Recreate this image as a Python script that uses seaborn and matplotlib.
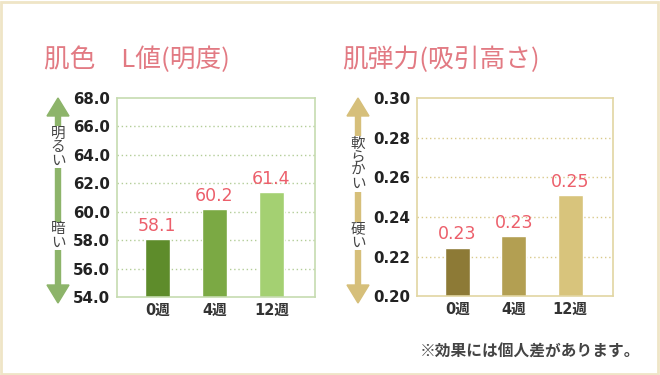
import matplotlib
matplotlib.use("Agg")
import matplotlib.pyplot as plt
import seaborn as sns
import numpy as np
from matplotlib.patches import FancyArrow, Rectangle
from matplotlib.transforms import IdentityTransform

sns.set_theme(style="white")
plt.rcParams['font.family'] = ['Noto Sans CJK JP', 'DejaVu Sans']

# data
weeks = ['0週', '4週', '12週']
l_values = [58.1, 60.2, 61.4]
l_labels = ['58.1', '60.2', '61.4']
l_ticks = [54.0, 56.0, 58.0, 60.0, 62.0, 64.0, 66.0, 68.0]
el_values = [0.2245, 0.2305, 0.2510]
el_labels = ['0.23', '0.23', '0.25']
el_ticks = [0.20, 0.22, 0.24, 0.26, 0.28, 0.30]

green_bars = ['#5e8c2b', '#7ba944', '#a4d072']
gold_bars = ['#8d7a36', '#b39f52', '#d8c47c']
label_red = '#ec5f6b'
title_pink = '#e27a83'

fig = plt.figure(figsize=(6.6, 3.75), dpi=100)
fig.patch.set_facecolor('white')
fig.add_artist(Rectangle((0.002, 0.003), 0.995, 0.992, transform=fig.transFigure,
                         fill=False, edgecolor='#efe5c6', lw=2))

def panel(rect, values, labels, ticks, fmt, colors, edge, grid, title, title_x):
    ax = fig.add_axes(rect)
    sns.barplot(x=weeks, y=values, hue=weeks, palette=colors, legend=False,
                width=0.44, saturation=1, ax=ax)
    ax.set_xlim(-0.71, 2.76)
    ax.set_ylim(ticks[0], ticks[-1])
    ax.set_yticks(ticks)
    ax.set_yticklabels([fmt.format(t) for t in ticks], fontsize=10.8,
                       fontweight='bold', color='#222222', family='DejaVu Sans')
    ax.set_xticks(range(len(weeks)))
    ax.set_xticklabels(weeks, fontsize=10.5, fontweight='bold', color='#333333',
                       family=['DejaVu Sans', 'Noto Sans CJK JP'])
    ax.tick_params(axis='y', length=0, pad=5)
    ax.tick_params(axis='x', length=0, pad=4)
    ax.set_xlabel('')
    ax.set_ylabel('')
    for t in ticks[1:-1]:
        ax.axhline(t, color=grid, lw=1, ls=(0, (1, 2)), zorder=0)
    for s in ax.spines.values():
        s.set_color(edge)
        s.set_linewidth(1.2)
    for c, lab in zip(ax.containers, labels):
        ax.bar_label(c, labels=[lab], padding=3, fontsize=12.5, color=label_red,
                     family='DejaVu Sans')
    fig.text(title_x, 0.84, title, fontsize=18.5, color=title_pink,
             ha='left', va='center')
    return ax

panel([0.177, 0.208, 0.300, 0.531], l_values, l_labels, l_ticks, '{:.1f}',
      green_bars, '#c6dbb0', '#b3cd98', '肌色　L値(明度)', 0.066)
panel([0.632, 0.210, 0.297, 0.529], el_values, el_labels, el_ticks, '{:.2f}',
      gold_bars, '#e2d6a2', '#d9ca8c', '肌弾力(吸引高さ)', 0.518)

def side_arrow(xc, color, top_text, top_y, bot_text, bot_y):
    H = 375
    y0, y1 = H - 303, H - 98
    mid = (y0 + y1) / 2
    for ys, ye in [(mid, y1), (mid, y0)]:
        fig.add_artist(FancyArrow(xc, ys, 0, ye - ys, width=5, head_width=22,
                                  head_length=18, length_includes_head=True,
                                  color=color, transform=IdentityTransform()))
    for txt, yc in [(top_text, top_y), (bot_text, bot_y)]:
        fig.text(xc / 660, 1 - yc / H, '\n'.join(txt), fontsize=10.5,
                 color='#444444', ha='center', va='center', linespacing=0.95,
                 bbox=dict(boxstyle='square,pad=0.05', fc='white', ec='none'))

side_arrow(58, '#8db46a', '明るい', 147, '暗い', 236)
side_arrow(358, '#d6bf7a', '軟らかい', 164, '硬い', 236)

fig.text(0.97, 0.063, '※効果には個人差があります。', fontsize=11.3, color='#444444',
         fontweight='bold', ha='right', va='center')

fig.savefig('out.png', dpi=100)
